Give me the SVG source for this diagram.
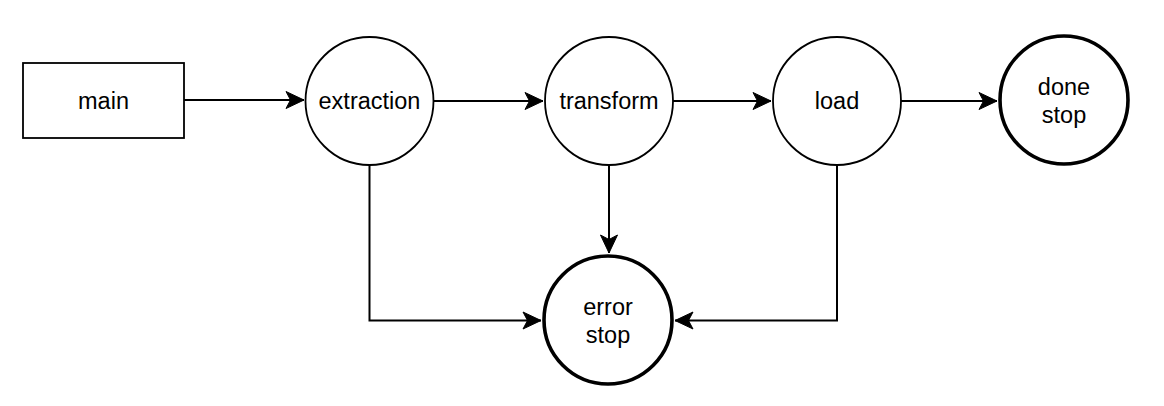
<svg xmlns="http://www.w3.org/2000/svg" width="1164" height="406" viewBox="0 0 1164 406">
<style>
.n{fill:#fff;stroke:#000;stroke-width:1.8}
.b{fill:#fff;stroke:#000;stroke-width:3.6}
.t{font-family:"Liberation Sans",Arial,Helvetica,sans-serif;font-size:23.5px;fill:#000;text-anchor:middle}
.e{fill:none;stroke:#000;stroke-width:2}
</style>
<defs>
<marker id="arr" markerUnits="userSpaceOnUse" viewBox="-20 -10 22 20" refX="0" refY="0" markerWidth="22" markerHeight="20" orient="auto">
<path d="M0,0 L-18,-8.5 L-13.5,0 L-18,8.5 Z" fill="#000" stroke="#000" stroke-width="1"/>
</marker>
</defs>
<g id="connectors">
<path class="e" d="M184,100 L304,100" marker-end="url(#arr)"/>
<path class="e" d="M434,101 L543,101" marker-end="url(#arr)"/>
<path class="e" d="M673,101 L771,101" marker-end="url(#arr)"/>
<path class="e" d="M901,101 L997,101" marker-end="url(#arr)"/>
<path class="e" d="M369.5,165 L369.5,320.5 L541,320.5" marker-end="url(#arr)"/>
<path class="e" d="M609,165 L609,253" marker-end="url(#arr)"/>
<path class="e" d="M837,165 L837,320.5 L675,320.5" marker-end="url(#arr)"/>
</g>
<g id="main">
<rect class="n" x="23" y="63" width="161" height="75"/>
<text class="t" x="103.5" y="108.5">main</text>
</g>
<g id="extraction">
<circle class="n" cx="369.5" cy="101" r="64"/>
<text class="t" x="369.5" y="109">extraction</text>
</g>
<g id="transform">
<circle class="n" cx="609" cy="101" r="64"/>
<text class="t" x="609" y="109">transform</text>
</g>
<g id="load">
<circle class="n" cx="837" cy="101" r="64"/>
<text class="t" x="837" y="109">load</text>
</g>
<g id="done">
<circle class="b" cx="1064" cy="100" r="64"/>
<text class="t" x="1064" y="94.5">done</text>
<text class="t" x="1064" y="122.5">stop</text>
</g>
<g id="error">
<circle class="b" cx="608" cy="320" r="64"/>
<text class="t" x="608" y="314.5">error</text>
<text class="t" x="608" y="342.5">stop</text>
</g>
</svg>
